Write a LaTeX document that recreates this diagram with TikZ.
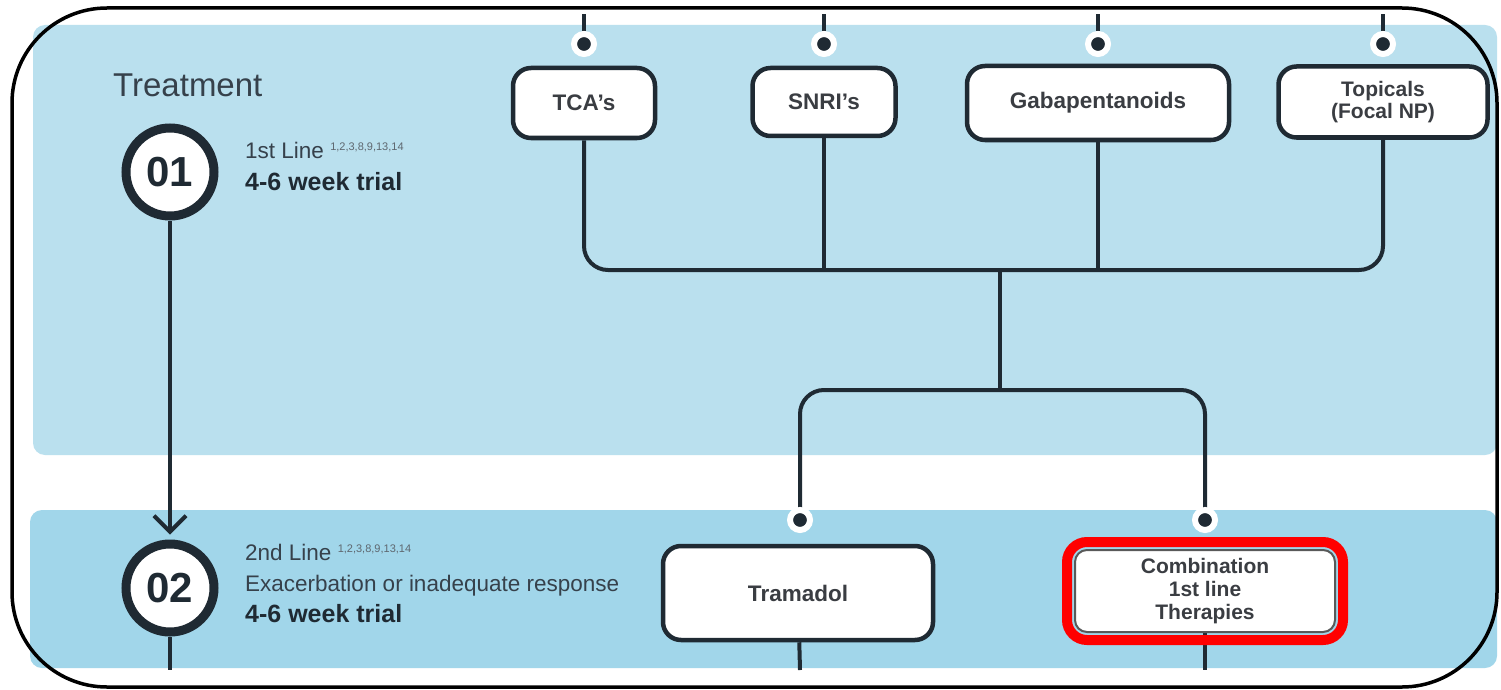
\documentclass[tikz,border=0pt]{standalone}
\usepackage{fontspec}
\setmainfont{Liberation Sans}
\usetikzlibrary{arrows.meta,fit}
\definecolor{panelA}{HTML}{BAE0EE}
\definecolor{panelB}{HTML}{A1D6EA}
\definecolor{ink}{HTML}{1F2A33}
\definecolor{txt}{HTML}{36414B}
\definecolor{boxtxt}{HTML}{3A3D42}
\pgfdeclarelayer{bg}
\pgfdeclarelayer{lines}
\pgfsetlayers{bg,lines,main}
\tikzset{
  conn/.style={draw=ink, line width=4pt},
  drugbox/.style={draw=ink, line width=4.5pt, fill=white, rounded corners=18pt, align=center,
    text=boxtxt, font=\fontsize{22.5}{24}\selectfont\bfseries, inner sep=0pt},
  dotnode/.style={circle, fill=ink, draw=white, line width=6pt, minimum size=20pt, inner sep=0pt},
  stepcircle/.style={circle, draw=ink, line width=9pt, fill=white, minimum size=88pt, inner sep=0pt,
    text=ink, font=\fontsize{42}{42}\selectfont\bfseries},
  lbl/.style={anchor=base west, text=txt, inner sep=0pt, font=\fontsize{22.5}{24}\selectfont},
  lblb/.style={anchor=base west, text=ink, inner sep=0pt, font=\fontsize{25}{26}\selectfont\bfseries}
}
\newcommand{\refs}{\raisebox{8pt}{\fontsize{11}{11}\selectfont\color{txt!80} 1,2,3,8,9,13,14}}
\begin{document}
\begin{tikzpicture}[x=1pt,y=-1pt]
\useasboundingbox (0,0) rectangle (1501,690);
\begin{pgfonlayer}{bg}
  \fill[white] (0,0) rectangle (1501,690);
  \fill[panelA, rounded corners=12pt] (33,25) rectangle (1497,455);
  \fill[panelB, rounded corners=12pt] (30,510) rectangle (1497,668);
\end{pgfonlayer}

% left column
\node[anchor=base west, text=txt, inner sep=0pt, font=\fontsize{33}{36}\selectfont] (title) at (113,97) {Treatment};
\node[stepcircle] (s1) at (170,172) {01};
\node[stepcircle] (s2) at (170,588) {02};
\node[lbl] (l1a) at (245,158) {1st Line \refs};
\node[lblb] (l1b) at (245,190) {4-6 week trial};
\node[lbl] (l2a) at (245,560) {2nd Line \refs};
\node[lbl] (l2b) at (245,591) {Exacerbation or inadequate response};
\node[lblb] (l2c) at (245,622) {4-6 week trial};
\coordinate (b0) at (170,670);

% first-line boxes
\node[drugbox, minimum width=142pt, minimum height=70pt] (tca) at (584,103) {TCA's};
\node[drugbox, minimum width=143pt, minimum height=68pt] (snri) at (824,102) {SNRI's};
\node[drugbox, minimum width=262pt, minimum height=74pt] (gaba) at (1098,103) {Gabapentanoids};
\node[drugbox, minimum width=209pt, minimum height=71pt, font=\fontsize{21}{22}\selectfont\bfseries] (topi) at (1383,102) {Topicals\\(Focal NP)};

\node[dotnode] (d1) at (584,44) {};
\node[dotnode] (d2) at (824,44) {};
\node[dotnode] (d3) at (1098,44) {};
\node[dotnode] (d4) at (1383,44) {};
\coordinate (t1) at (584,14);
\coordinate (t2) at (824,14);
\coordinate (t3) at (1098,14);
\coordinate (t4) at (1383,14);

% second-line boxes
\node[dotnode] (d5) at (800,520) {};
\node[dotnode] (d6) at (1205,520) {};
\node[drugbox, minimum width=270pt, minimum height=94pt] (tram) at (798,593) {Tramadol};
\node[drugbox, draw=gray!70!black, line width=2pt, rounded corners=12pt, minimum width=260pt, minimum height=82pt,
  font=\fontsize{21}{23}\selectfont\bfseries] (comb) at (1205,591) {Combination\\1st line\\Therapies};
\node[fit=(comb), inner sep=7pt, draw=red, line width=10pt, rounded corners=20pt] (hl) {};
\coordinate (b1) at (800,670);
\coordinate (b2) at (1205,670);

\coordinate (j1) at (1000,270);
\coordinate (j2) at (1000,390);

\begin{pgfonlayer}{lines}
  \draw[conn] (d1) -- (t1);
  \draw[conn] (d2) -- (t2);
  \draw[conn] (d3) -- (t3);
  \draw[conn] (d4) -- (t4);
  \draw[conn, rounded corners=24pt] (tca.south) |- (j1) -| (topi.south);
  \draw[conn] (snri.south) -- (snri.south |- j1);
  \draw[conn] (gaba.south) -- (gaba.south |- j1);
  \draw[conn] (j1) -- (j2);
  \draw[conn, rounded corners=24pt] (d5.center) |- (j2) -| (d6.center);
  \draw[conn] (tram) -- (b1);
  \draw[conn] (comb) -- (b2);
  \draw[conn, shorten >=5pt, -{Straight Barb[length=16pt,width=32pt]}] (s1) -- (s2);
  \draw[conn] (s2) -- (b0);
\end{pgfonlayer}

% outer frame
\draw[black, line width=3.5pt, rounded corners=95pt] (12,8) rectangle (1497,687);
\end{tikzpicture}
\end{document}
